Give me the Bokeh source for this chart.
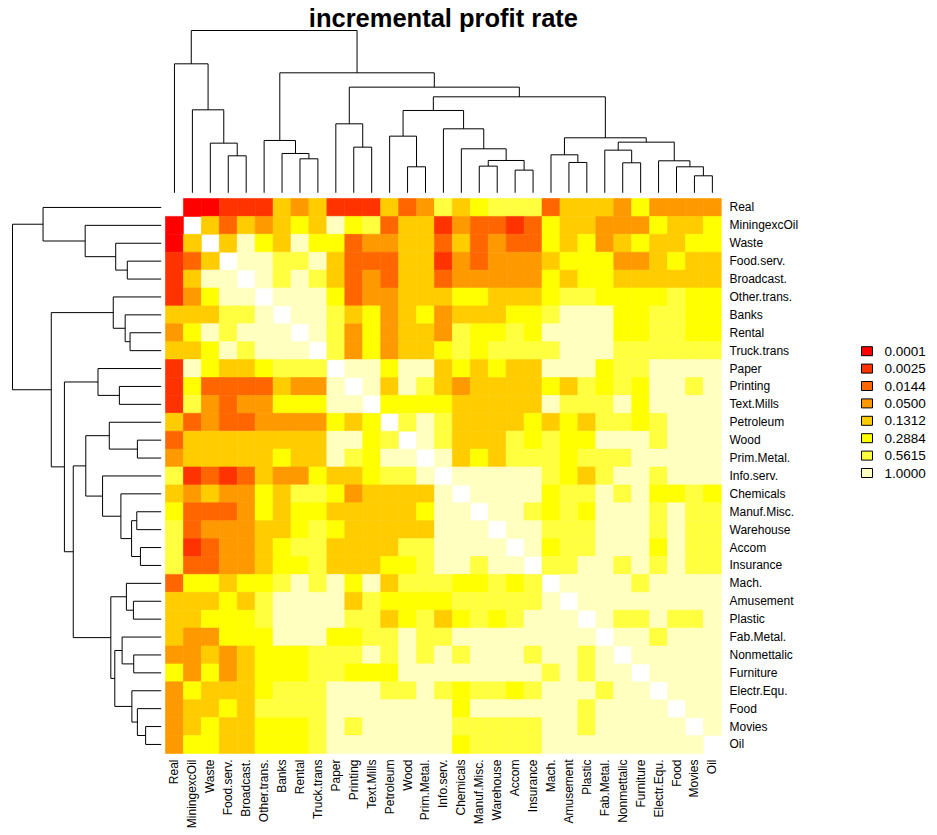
import numpy as np
from bokeh.plotting import figure
from bokeh.models import ColumnDataSource, Range1d
from bokeh.core.properties import value
from bokeh.embed import file_html
from bokeh.resources import INLINE

# ---------------- data ----------------
title_text = "incremental profit rate"

sectors = ["Real", "MiningexcOil", "Waste", "Food.serv.", "Broadcast.", "Other.trans.",
           "Banks", "Rental", "Truck.trans", "Paper", "Printing", "Text.Mills",
           "Petroleum", "Wood", "Prim.Metal.", "Info.serv.", "Chemicals", "Manuf.Misc.",
           "Warehouse", "Accom", "Insurance", "Mach.", "Amusement", "Plastic",
           "Fab.Metal.", "Nonmettalic", "Furniture", "Electr.Equ.", "Food", "Movies", "Oil"]

# legend break labels (p-value classes) and their colours (R heat.colors(8))
class_labels = ["0.0001", "0.0025", "0.0144", "0.0500", "0.1312", "0.2884", "0.5615", "1.0000"]
class_colors = ["#FF0000", "#FF3300", "#FF6600", "#FF9900", "#FFCC00", "#FFFF00", "#FFFF40", "#FFFFBF"]

# class index of every cell (row = sector, column = sector), '-' = missing (diagonal)
cell_class = [
    "-001114341" "1142364566" "62444353333",
    "0-42434547" "5624413221" "25443335445",
    "04-4754755" "2334424232" "25453454455",
    "124-776674" "2224413233" "34555334544",
    "1477-76764" "2324423333" "35455444444",
    "13577-7775" "2334445544" "45665555655",
    "444667-776" "4534534445" "56777556655",
    "3576777-76" "3534436556" "57777556655",
    "44576777-6" "3534456566" "66777666666",
    "175445666-" "7757745454" "47775667777",
    "1522224337" "-747643444" "45465657767",
    "1632335557" "7-55554444" "47666757777",
    "4232233335" "45-6764444" "54546656777",
    "2444444447" "756-764446" "56557776777",
    "3444445447" "6577-74546" "66566677777",
    "6121243354" "45667-7777" "76546776777",
    "4343354665" "344447-777" "75667675565",
    "5222354554" "4444577-77" "65657776766",
    "6233344565" "44444777-7" "76667776766",
    "6123345664" "444667777-" "75667775766",
    "6223345564" "4455677677" "-6677676766",
    "2554556767" "5746665565" "6-777767777",
    "4445467777" "4655556666" "67-77777777",
    "4455567777" "6645645656" "777-7667667",
    "4335557775" "5667667777" "7777-776777",
    "3343455566" "6767676777" "67767-77777",
    "5353455566" "5557777777" "767677-7777",
    "3544456667" "7766765665" "6777677-777",
    "3445466667" "7777775777" "77767777-77",
    "3454455567" "6777776666" "677677777-7",
    "3554455567" "7777775666" "6777777777-",
]

# hierarchical clustering: (node, left child, right child, merge height)
tree_merges = [
    ("A4", "Food.serv.", "Broadcast.", 1.11),
    ("A3", "Waste", "A4", 1.49),
    ("A2", "MiningexcOil", "A3", 2.49),
    ("A", "Real", "A2", 3.87),
    ("C3", "Rental", "Truck.trans", 1.02),
    ("C2", "Banks", "C3", 1.18),
    ("C", "Other.trans.", "C2", 1.57),
    ("E2", "Printing", "Text.Mills", 1.37),
    ("E", "Paper", "E2", 2.07),
    ("G1a", "Wood", "Prim.Metal.", 0.78),
    ("G1", "Petroleum", "G1a", 1.70),
    ("G5", "Manuf.Misc.", "Warehouse", 0.80),
    ("G6", "Accom", "Insurance", 0.68),
    ("G4", "G5", "G6", 0.97),
    ("G3", "Chemicals", "G4", 1.32),
    ("G2", "Info.serv.", "G3", 1.92),
    ("G", "G1", "G2", 2.47),
    ("H1a", "Amusement", "Plastic", 0.91),
    ("H1", "Mach.", "H1a", 1.14),
    ("H3a", "Nonmettalic", "Furniture", 0.90),
    ("H3", "Fab.Metal.", "H3a", 1.28),
    ("H6", "Movies", "Oil", 0.51),
    ("H5", "Food", "H6", 0.78),
    ("H4", "Electr.Equ.", "H5", 0.96),
    ("H2", "H3", "H4", 1.52),
    ("H", "H1", "H2", 1.65),
    ("F", "G", "H", 2.88),
    ("D", "E", "F", 3.17),
    ("B", "C", "D", 3.60),
    ("root", "A", "B", 4.87),
]

# ---------------- layout (page pixels) ----------------
PAGE = 0
W, H = 937, 835
CELL_X, CELL_Y = 17.93, 17.9
HX0, HY0 = 165.0, 198.0          # top-left corner of the heatmap on the page


def ux(px):
    return (px - HX0) / CELL_X


def vy(py):
    return (py - HY0) / CELL_Y


n = len(sectors)
FONT = value("Liberation Sans")

p = figure(width=W, height=H,
           x_range=Range1d(ux(PAGE), ux(PAGE + W)),
           y_range=Range1d(vy(PAGE + H), vy(PAGE)),
           output_backend="svg", toolbar_location=None, min_border=0,
           x_axis_location=None, y_axis_location=None)
p.grid.visible = False
p.outline_line_color = None
p.background_fill_color = "white"
p.border_fill_color = "white"

# ---------------- heatmap ----------------
hx, hy, hc = [], [], []
for i, row in enumerate(cell_class):
    for j, ch in enumerate(row):
        if ch == "-":
            continue
        hx.append(j + 0.5)
        hy.append(i + 0.5)
        hc.append(class_colors[int(ch)])
src = ColumnDataSource(dict(x=hx, y=hy, c=hc))
p.rect(x="x", y="y", width=1, height=1, fill_color="c", line_color="c",
       line_width=0.6, source=src)

# ---------------- dendrograms ----------------
pos = {name: k + 0.5 for k, name in enumerate(sectors)}
hgt = {name: 0.0 for name in sectors}
segs = []
for node, left, right, h in tree_merges:
    pl, pr = pos[left], pos[right]
    segs.append((pl, pr, hgt[left], hgt[right], h))
    pos[node] = (pl + pr) / 2.0
    hgt[node] = h

root_h = tree_merges[-1][3]
# column dendrogram (top)
top_base = vy(192.3)
top_scale = (vy(192.3) - vy(30)) / root_h
# row dendrogram (left)
left_base = ux(160.7)
left_scale = (ux(160.7) - ux(12)) / root_h

txs, tys, lxs, lys = [], [], [], []
for pl, pr, hl, hr, h in segs:
    txs.append([pl, pl, pr, pr])
    tys.append([top_base - hl * top_scale, top_base - h * top_scale,
                top_base - h * top_scale, top_base - hr * top_scale])
    lys.append([pl, pl, pr, pr])
    lxs.append([left_base - hl * left_scale, left_base - h * left_scale,
                left_base - h * left_scale, left_base - hr * left_scale])
p.multi_line(xs=txs, ys=tys, line_color="black", line_width=1)
p.multi_line(xs=lxs, ys=lys, line_color="black", line_width=1)

# ---------------- labels ----------------
centers = [k + 0.5 for k in range(n)]
p.text(x=[ux(729)] * n, y=centers, text=sectors, text_align="left",
       text_baseline="middle", text_font=FONT, text_font_size="12px", text_color="black")
p.text(x=centers, y=[vy(759)] * n, text=sectors, angle=np.pi / 2, text_align="right",
       text_baseline="middle", text_font=FONT, text_font_size="12px", text_color="black")

p.text(x=[n / 2.0], y=[vy(17)], text=[title_text], text_align="center",
       text_baseline="middle", text_font=FONT, text_font_size="25.5px",
       text_font_style="bold", text_color="black")

# ---------------- legend ----------------
k = len(class_labels)
leg_y = [vy(350.7 + 17.4 * i) for i in range(k)]
p.rect(x=[ux(866.5)] * k, y=leg_y, width=11, height=9, width_units="screen",
       height_units="screen", fill_color=class_colors, line_color="black", line_width=1)
p.text(x=[ux(884)] * k, y=leg_y, text=class_labels, text_align="left",
       text_baseline="middle", text_font=FONT, text_font_size="13.5px", text_color="black")

open("out.html", "w").write(file_html(p, INLINE))
